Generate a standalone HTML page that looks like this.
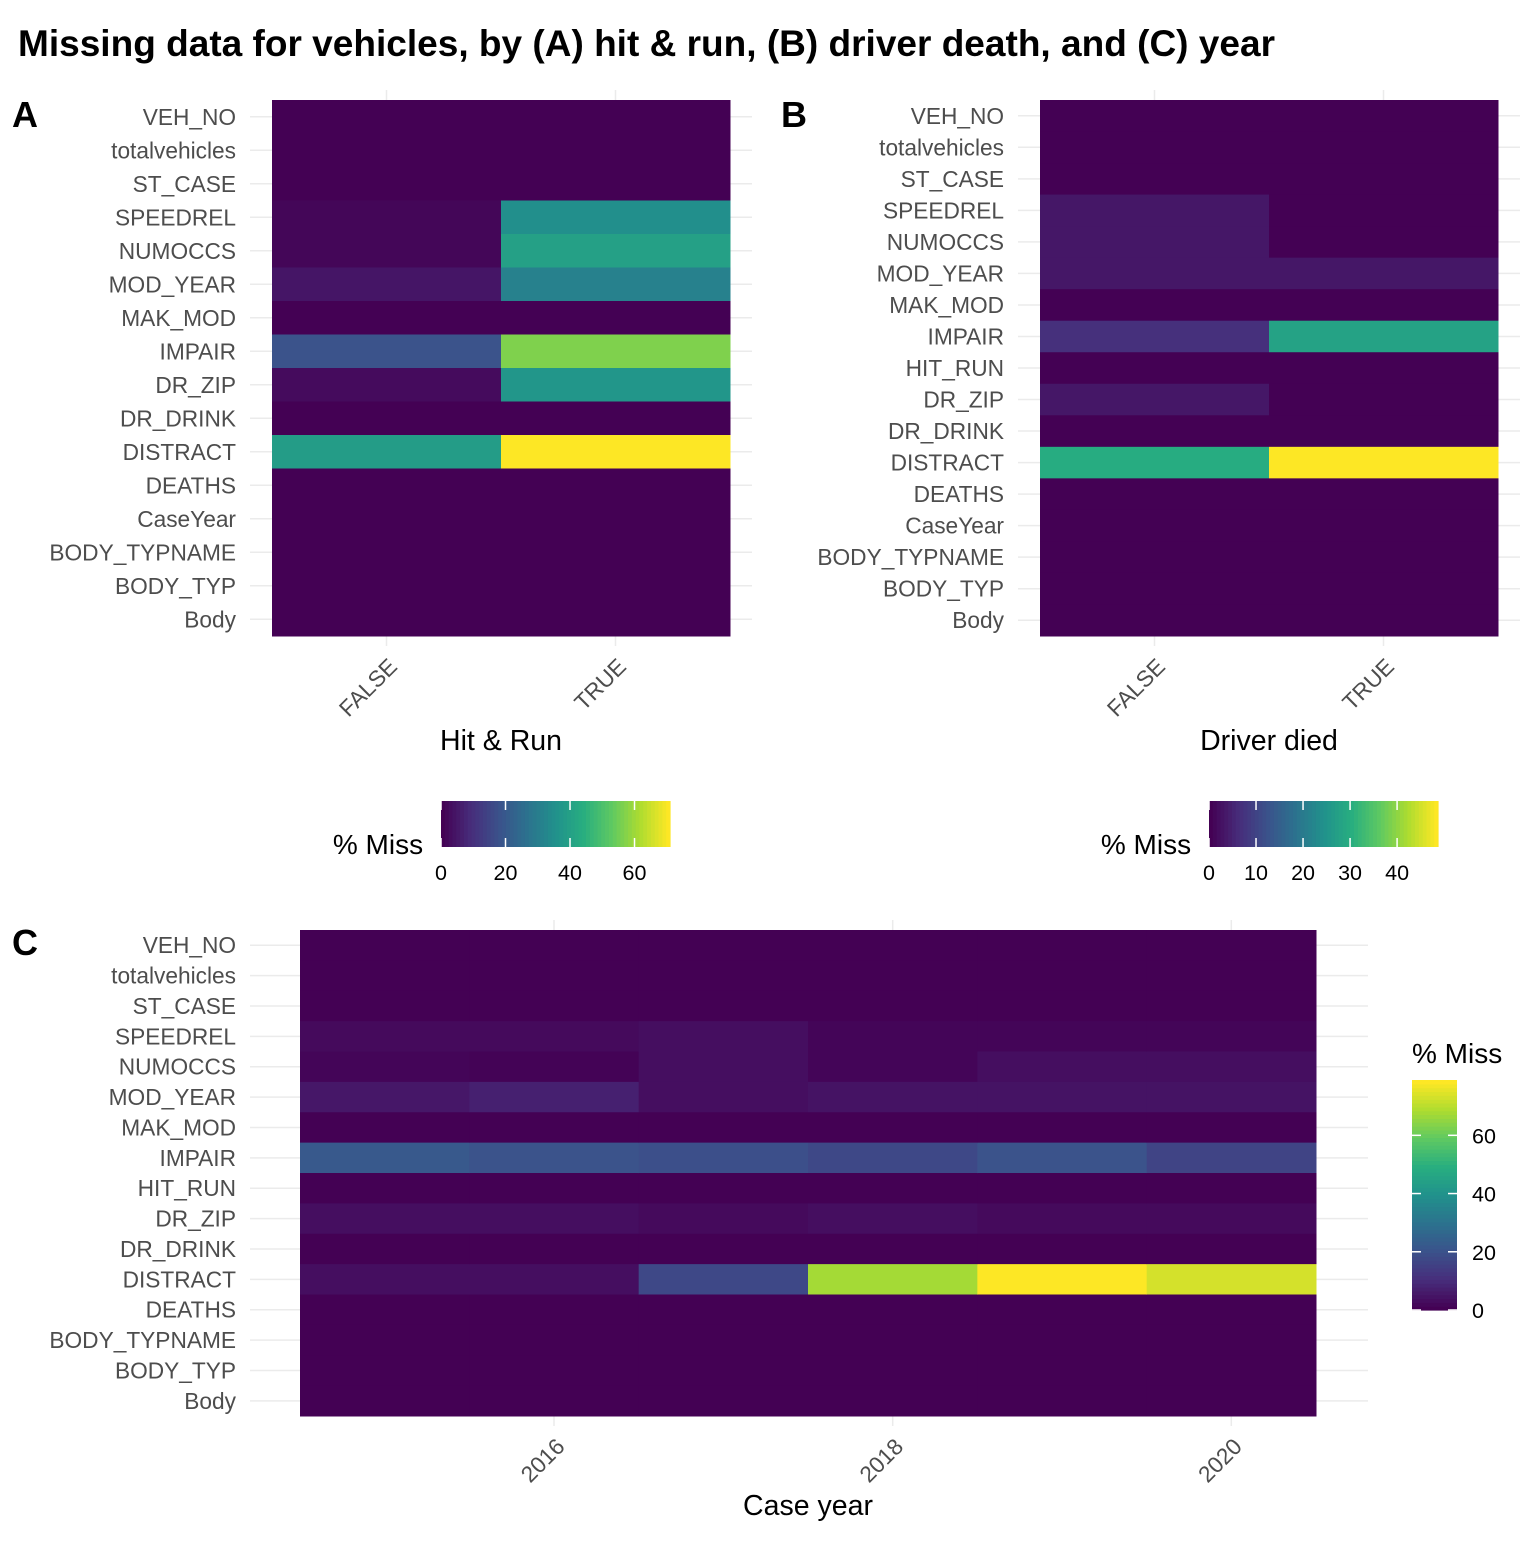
<!DOCTYPE html>
<html><head><meta charset="utf-8"><style>
body{margin:0;background:#fff;}
svg text{font-family:"Liberation Sans",sans-serif;}
</style></head><body>
<svg id="chart" width="1536" height="1536" xmlns="http://www.w3.org/2000/svg">
<rect width="1536" height="1536" fill="#fff"/>
<text x="18" y="56" font-size="37" font-weight="bold" fill="#000" textLength="1257" lengthAdjust="spacingAndGlyphs">Missing data for vehicles, by (A) hit &amp; run, (B) driver death, and (C) year</text>
<g id="gA"></g><g id="gB"></g><g id="gC"></g>
</svg>
<script>
const rowsA = ["VEH_NO","totalvehicles","ST_CASE","SPEEDREL","NUMOCCS","MOD_YEAR","MAK_MOD","IMPAIR","DR_ZIP","DR_DRINK","DISTRACT","DEATHS","CaseYear","BODY_TYPNAME","BODY_TYP","Body"];
const rowsB = ["VEH_NO","totalvehicles","ST_CASE","SPEEDREL","NUMOCCS","MOD_YEAR","MAK_MOD","IMPAIR","HIT_RUN","DR_ZIP","DR_DRINK","DISTRACT","DEATHS","CaseYear","BODY_TYPNAME","BODY_TYP","Body"];
const rowsC = ["VEH_NO","totalvehicles","ST_CASE","SPEEDREL","NUMOCCS","MOD_YEAR","MAK_MOD","IMPAIR","HIT_RUN","DR_ZIP","DR_DRINK","DISTRACT","DEATHS","BODY_TYPNAME","BODY_TYP","Body"];
const catsA = ["FALSE","TRUE"];
const catsB = ["FALSE","TRUE"];
const yearsC = [2015,2016,2017,2018,2019,2020];
const valsA_false = [0,0,0,1,1,4,0,18,2,0,39,0,0,0,0,0];
const valsA_true  = [0,0,0,35,40,31,0,57,37,0,71,0,0,0,0,0];
const valsB_false = [0,0,0,3,3,3,0,6.5,0,3,0,30,0,0,0,0,0];
const valsB_true  = [0,0,0,0,0,3,0,28,0,0,0,48.7,0,0,0,0,0];
const valsC = {
 2015:[0,0,0,2,1,5,0,22,0,3,0,3,0,0,0,0],
 2016:[0,0,0,2,0.5,7,0,20,0,3,0,3,0,0,0,0],
 2017:[0,0,0,3,3,3,0,19,0,2,0,17,0,0,0,0],
 2018:[0,0,0,1,1,4,0,17,0,3,0,68,0,0,0,0],
 2019:[0,0,0,1,3,4,0,20,0,2,0,79,0,0,0,0],
 2020:[0,0,0,1,3,4,0,16,0,2,0,74,0,0,0,0]
};
const ticksA = [0,20,40,60];
const ticksB = [0,10,20,30,40];
const ticksC = [0,20,40,60];
const xTicksC = [2016,2018,2020];

const VS=["#440154","#472d7b","#3b528b","#2c728e","#21918c","#28ae80","#5ec962","#addc30","#fde725"];
function hex(h){return [1,3,5].map(i=>parseInt(h.substr(i,2),16));}
function viridis(t){t=Math.max(0,Math.min(1,t));const p=t*8,i=Math.min(7,Math.floor(p)),f=p-i;const a=hex(VS[i]),b=hex(VS[i+1]);return "rgb("+a.map((v,k)=>Math.round(v+(b[k]-v)*f)).join(",")+")";}
const NS="http://www.w3.org/2000/svg";
function el(parent,tag,attrs,text){const e=document.createElementNS(NS,tag);for(const k in attrs)e.setAttribute(k,attrs[k]);if(text!==undefined)e.textContent=text;parent.appendChild(e);return e;}

function panel(g,o){
  const n=o.rows.length, rh=(o.y1-o.y0)/n, nc=o.cols.length, cw=(o.x1-o.x0)/nc;
  o.rows.forEach((r,i)=>{const y=o.y0+rh*(i+0.5);
    const l=el(g,"line",{x1:o.gx0,x2:o.gx1,y1:y,y2:y,stroke:"#ebebeb","stroke-width":1.5});
    
    
    const t=el(g,"text",{x:o.labx,y:y+8,"text-anchor":"end","font-size":22.7,fill:"#4d4d4d"},r);
    
    
  });
  o.xt.forEach(v=>{const x=o.xs(v);
    const l=el(g,"line",{x1:x,x2:x,y1:o.y0-10,y2:o.y1+10,stroke:"#ebebeb","stroke-width":1.5});
    
    
    const t=el(g,"text",{x:x+12,y:o.y1+32,"text-anchor":"end","font-size":22.7,fill:"#4d4d4d",transform:`rotate(-45 ${x+12} ${o.y1+32})`},o.xtl(v));
    
    
  });
  o.cols.forEach((c,j)=>{o.rows.forEach((r,i)=>{
    const v=o.val(j,i);
    const rc=el(g,"rect",{x:o.x0+cw*j,y:o.y0+rh*i,width:cw+0.5,height:rh+0.5,fill:viridis(v/o.max)});
    
    
  });});
  const lt=el(g,"text",{x:o.lx,y:o.ly,"font-size":36,"font-weight":"bold",fill:"#000"},o.letter);
  
  
  const at=el(g,"text",{x:o.axx,y:o.axy,"text-anchor":"middle","font-size":28.5,fill:"#000"},o.axis);
  
  
}
function hbar(g,x0,x1,y0,y1,max,ticks,tx){
  const steps=60;
  for(let k=0;k<steps;k++){const r=el(g,"rect",{x:x0+(x1-x0)*k/steps,y:y0,width:(x1-x0)/steps+0.6,height:y1-y0,fill:viridis(k/(steps-1))});
    
    }
  ticks.forEach(v=>{const x=x0+(x1-x0)*v/max;
    el(g,"line",{x1:x,x2:x,y1:y0,y2:y0+9,stroke:"#fff","stroke-width":1.5});
    el(g,"line",{x1:x,x2:x,y1:y1-9,y2:y1,stroke:"#fff","stroke-width":1.5});
    const t=el(g,"text",{x:x,y:y1+33,"text-anchor":"middle","font-size":21.5,fill:"#000"},v);
    
    });
  const t=el(g,"text",{x:tx,y:y1+7,"text-anchor":"middle","font-size":28,fill:"#000"},"% Miss");
  
  
}
const gA=document.getElementById("gA"),gB=document.getElementById("gB"),gC=document.getElementById("gC");
panel(gA,{rows:rowsA,cols:catsA,x0:272,x1:730,y0:100,y1:636,gx0:250,gx1:752,max:71,labx:236,
 val:(j,i)=>(j?valsA_true:valsA_false)[i],xt:[0,1],xs:j=>272+229*(j+0.5),xtl:j=>catsA[j],
 letter:"A",lx:12,ly:127,axis:"Hit & Run",axx:501,axy:750});
hbar(gA,441,670,801,847,71,ticksA,378);
panel(gB,{rows:rowsB,cols:catsB,x0:1040,x1:1498,y0:100,y1:636,gx0:1018,gx1:1520,max:48.7,labx:1004,
 val:(j,i)=>(j?valsB_true:valsB_false)[i],xt:[0,1],xs:j=>1040+229*(j+0.5),xtl:j=>catsB[j],
 letter:"B",lx:781,ly:127,axis:"Driver died",axx:1269,axy:750});
hbar(gB,1209,1438,801,847,48.7,ticksB,1146);
const cwC=(1316-300)/yearsC.length;
panel(gC,{rows:rowsC,cols:yearsC,x0:300,x1:1316,y0:930,y1:1416,gx0:250,gx1:1368,max:79,labx:236,
 val:(j,i)=>valsC[yearsC[j]][i],xt:xTicksC,xs:y=>300+cwC*(y-yearsC[0]+0.5),xtl:y=>y,
 letter:"C",lx:12,ly:955,axis:"Case year",axx:808,axy:1515});
(function(){const x0=1412,x1=1457,y0=1080,y1=1310,max=79,steps=60;
 for(let k=0;k<steps;k++){const r=el(gC,"rect",{x:x0,y:y1-(y1-y0)*(k+1)/steps,width:x1-x0,height:(y1-y0)/steps+0.6,fill:viridis(k/(steps-1))});
  
  }
 ticksC.forEach(v=>{const y=y1-(y1-y0)*v/max;
  el(gC,"line",{x1:x0,x2:x0+9,y1:y,y2:y,stroke:"#fff","stroke-width":1.5});
  el(gC,"line",{x1:x1-9,x2:x1,y1:y,y2:y,stroke:"#fff","stroke-width":1.5});
  const t=el(gC,"text",{x:1472,y:y+8,"font-size":21.5,fill:"#000"},v);
  
  });
 const t=el(gC,"text",{x:1412,y:1063,"font-size":28,fill:"#000"},"% Miss");
 
 
})();
</script>
</body></html>
